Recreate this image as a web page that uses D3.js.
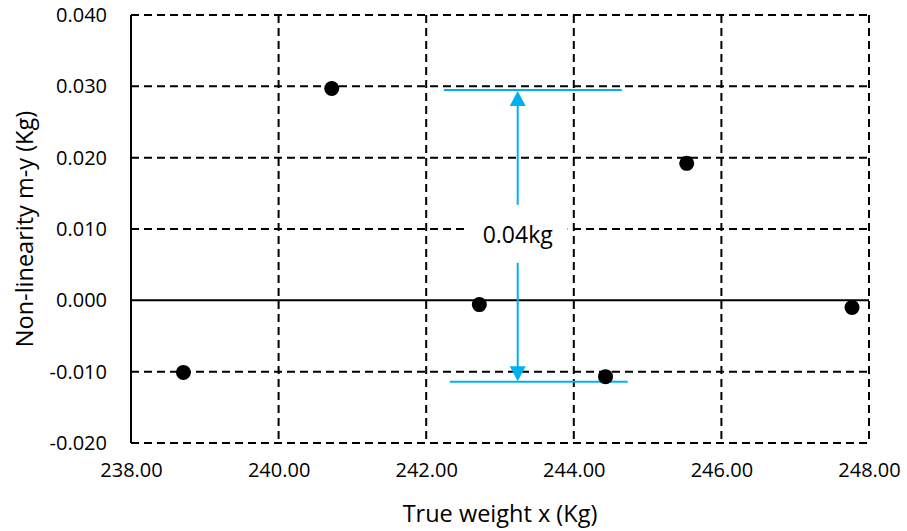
<!DOCTYPE html>
<html>
<head>
<meta charset="utf-8">
<script src="https://cdn.jsdelivr.net/npm/d3@7"></script>
<style>
  body { margin: 0; background: #fff; }
  svg text { font-family: "Open Sans", sans-serif; fill: #000; }
</style>
</head>
<body>
<svg id="chart"></svg>
<script>
// data
var weights = [238.71, 240.72, 242.72, 244.43, 245.53, 247.77];
var nonLinearity = [-0.0101, 0.0297, -0.0006, -0.0107, 0.0192, -0.0010];
var xTicks = [238, 240, 242, 244, 246, 248];
var yTicks = [-0.02, -0.01, 0, 0.01, 0.02, 0.03, 0.04];
// span annotation: [x0, x1, y]
var spanTop = [242.24, 244.65, 0.0295];
var spanBottom = [242.32, 244.73, -0.0114];
var spanArrowX = 243.24;
var spanLabel = "0.04kg";

var width = 907, height = 531;
var margins = {"top": 15, "right": 38, "bottom": 88, "left": 131};
var blue = "#00B0F0";

var svg = d3.select("#chart").attr("width", width).attr("height", height);

var x = d3.scaleLinear().domain([238, 248]).range([margins.left, width - margins.right]);
var y = d3.scaleLinear().domain([-0.02, 0.04]).range([height - margins.bottom, margins.top]);

// plain hyphen for negatives, like the original
function fmt(spec){
  var f = d3.format(spec);
  return function(d){ return f(d).replace("\u2212", "-"); };
}

var g = svg.append("g");

// horizontal gridlines
g.selectAll("line.hgrid")
  .data(yTicks.filter(function(d){ return d !== 0; }))
  .enter().append("line")
    .attr("class", "hgrid")
    .attr("x1", x(238)).attr("x2", x(248))
    .attr("y1", function(d){ return y(d); })
    .attr("y2", function(d){ return y(d); })
    .attr("stroke", "#000").attr("stroke-width", 2)
    .attr("stroke-dasharray", "8,5");

// vertical gridlines
g.selectAll("line.vgrid")
  .data(xTicks.slice(1))
  .enter().append("line")
    .attr("class", "vgrid")
    .attr("x1", function(d){ return x(d); })
    .attr("x2", function(d){ return x(d); })
    .attr("y1", y(0.04)).attr("y2", y(-0.02))
    .attr("stroke", "#000").attr("stroke-width", 2)
    .attr("stroke-dasharray", "8,5");

// zero line and y axis line (solid)
g.append("line")
  .attr("x1", x(238)).attr("x2", x(248))
  .attr("y1", y(0)).attr("y2", y(0))
  .attr("stroke", "#000").attr("stroke-width", 2);
g.append("line")
  .attr("x1", x(238)).attr("x2", x(238))
  .attr("y1", y(0.04)).attr("y2", y(-0.02))
  .attr("stroke", "#000").attr("stroke-width", 2);

// axes labels via d3 axes (no ticks, no domain)
var yAxis = d3.axisLeft(y).tickValues(yTicks).tickFormat(fmt(".3f")).tickSize(0).tickPadding(24);
var gy = svg.append("g").attr("transform", "translate(" + x(238) + ",0)").call(yAxis);
gy.select(".domain").remove();
gy.selectAll("text").style("font-size", "20px").style("font-family", "'Open Sans', sans-serif");

var xAxis = d3.axisBottom(x).tickValues(xTicks).tickFormat(fmt(".2f")).tickSize(0).tickPadding(20);
var gx = svg.append("g").attr("transform", "translate(0," + y(-0.02) + ")").call(xAxis);
gx.select(".domain").remove();
gx.selectAll("text").style("font-size", "20px").style("font-family", "'Open Sans', sans-serif");

// axis titles
svg.append("text")
  .attr("x", (x(238) + x(248)) / 2)
  .attr("y", 522)
  .attr("text-anchor", "middle")
  .style("font-size", "23.5px")
  .text("True weight x (Kg)");
svg.append("text")
  .attr("transform", "translate(33," + y(0.01) + ") rotate(-90)")
  .attr("text-anchor", "middle")
  .style("font-size", "23.5px")
  .text("Non-linearity m-y (Kg)");

// span annotation
var ann = svg.append("g");
[spanTop, spanBottom].forEach(function(s){
  ann.append("line")
    .attr("x1", x(s[0])).attr("x2", x(s[1]))
    .attr("y1", y(s[2])).attr("y2", y(s[2]))
    .attr("stroke", blue).attr("stroke-width", 2);
});
var ax = x(spanArrowX);
var yTopTip = y(spanTop[2]) + 1, yBotTip = y(spanBottom[2]) - 0.5;
var labelY = (y(spanTop[2]) + y(spanBottom[2])) / 2 - 1;
// upper shaft and head
ann.append("line")
  .attr("x1", ax).attr("x2", ax)
  .attr("y1", yTopTip + 14).attr("y2", labelY - 30)
  .attr("stroke", blue).attr("stroke-width", 2);
ann.append("path")
  .attr("d", "M" + ax + "," + yTopTip + "L" + (ax - 8) + "," + (yTopTip + 15) + "L" + (ax + 8) + "," + (yTopTip + 15) + "Z")
  .attr("fill", blue);
// lower shaft and head
ann.append("line")
  .attr("x1", ax).attr("x2", ax)
  .attr("y1", labelY + 28).attr("y2", yBotTip - 14)
  .attr("stroke", blue).attr("stroke-width", 2);
ann.append("path")
  .attr("d", "M" + ax + "," + yBotTip + "L" + (ax - 8) + "," + (yBotTip - 15) + "L" + (ax + 8) + "," + (yBotTip - 15) + "Z")
  .attr("fill", blue);
// label with white box
ann.append("rect")
  .attr("x", ax - 50).attr("y", labelY - 18)
  .attr("width", 100).attr("height", 36)
  .attr("fill", "#fff");
ann.append("text")
  .attr("x", ax).attr("y", labelY + 8)
  .attr("text-anchor", "middle")
  .style("font-size", "23px")
  .text(spanLabel);

// points
svg.selectAll("circle.pt")
  .data(weights)
  .enter().append("circle")
    .attr("class", "pt")
    .attr("cx", function(d){ return x(d); })
    .attr("cy", function(d, i){ return y(nonLinearity[i]); })
    .attr("r", 7.5)
    .attr("fill", "#000");
</script>
</body>
</html>
